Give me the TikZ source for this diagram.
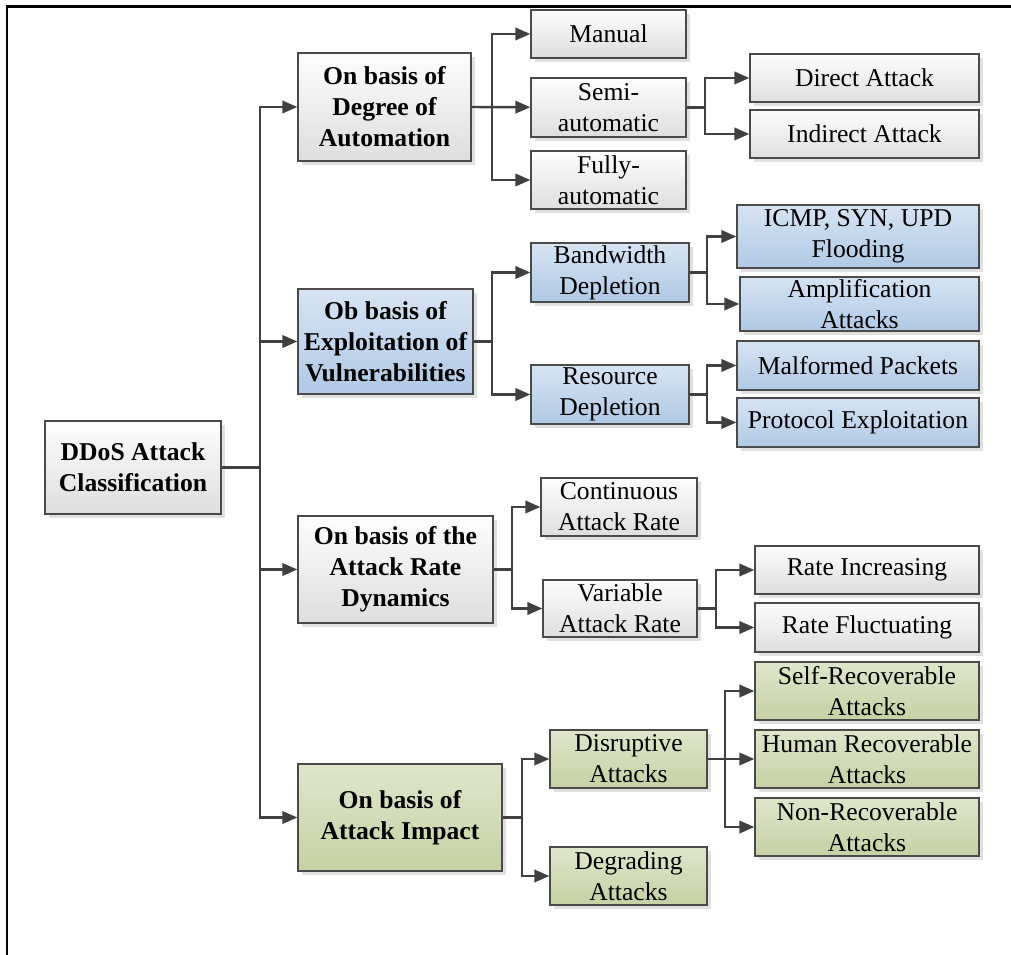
\documentclass[tikz,border=0pt]{standalone}
\usepackage{fontspec}
\setmainfont{Liberation Serif}
\usetikzlibrary{arrows.meta,shadows}
\definecolor{boxline}{HTML}{4A4A4A}
\definecolor{arrowgray}{HTML}{404040}
\definecolor{grayT}{HTML}{FDFDFD}
\definecolor{grayB}{HTML}{DEDEDE}
\definecolor{blueT}{HTML}{D6E4F3}
\definecolor{blueB}{HTML}{B0C9E5}
\definecolor{greenT}{HTML}{DFE6CC}
\definecolor{greenB}{HTML}{C6D1A4}
\begin{document}
\begin{tikzpicture}[x=0.02cm,y=-0.02cm,
	box/.style={draw=boxline,line width=0.7pt,align=center,inner sep=1pt,
		font=\fontsize{14.6}{17.6}\selectfont,
		drop shadow={shadow xshift=2.2pt,shadow yshift=-2.2pt,fill=black!12,opacity=1}},
	head/.style={font=\fontsize{14.6}{17.6}\selectfont\bfseries},
	graybox/.style={box,top color=grayT,bottom color=grayB},
	bluebox/.style={box,top color=blueT,bottom color=blueB},
	greenbox/.style={box,top color=greenT,bottom color=greenB},
	sz/.style 2 args={minimum width=#1*0.02cm,minimum height=#2*0.02cm},
	arr/.style={draw=arrowgray,line width=1.4pt,-{Triangle[length=8.5pt,width=7pt]}}]
	\useasboundingbox (0,0) rectangle (1011,955);
	\draw[line width=1.7pt] (7,955) -- (7,7) -- (1011,7);
	% forks
	\coordinate (trunk) at (260,0);
	\coordinate (f1) at (492,0);
	\coordinate (f1b) at (705,0);
	\coordinate (f2) at (492,0);
	\coordinate (f2b) at (707,0);
	\coordinate (f3) at (512,0);
	\coordinate (f3b) at (716,0);
	\coordinate (f4) at (522,0);
	\coordinate (f4b) at (725,0);
	% root and first level
	\node[graybox,head,sz={176}{93}] (root) at (133,467.5) {DDoS Attack\\Classification};
	\node[graybox,head,sz={173}{108}] (auto) at (384.5,107) {On basis of\\Degree of\\Automation};
	\node[bluebox,head,sz={175}{105}] (vuln) at (385.5,341.5) {Ob basis of\\Exploitation of\\Vulnerabilities};
	\node[graybox,head,sz={195}{107}] (rate) at (395.5,569.5) {On basis of the\\Attack Rate\\Dynamics};
	\node[greenbox,head,sz={204}{107}] (impact) at (400,817.5) {On basis of\\Attack Impact};
	% automation
	\node[graybox,sz={155}{48}] (manual) at (608.5,34) {Manual};
	\node[graybox,sz={155}{59}] (semi) at (608.5,107.5) {Semi-\\automatic};
	\node[graybox,sz={155}{58}] (fully) at (608.5,180) {Fully-\\automatic};
	\node[graybox,sz={229}{48}] (direct) at (864.5,78) {Direct Attack};
	\node[graybox,sz={229}{48}] (indirect) at (864.5,134) {Indirect Attack};
	% vulnerabilities
	\node[bluebox,sz={158}{59}] (band) at (610,272.5) {Bandwidth\\Depletion};
	\node[bluebox,sz={158}{59}] (resource) at (610,394.5) {Resource\\Depletion};
	\node[bluebox,sz={242}{63}] (flood) at (858,236.5) {ICMP, SYN, UPD\\Flooding};
	\node[bluebox,sz={239}{54}] (ampl) at (859.5,304) {Amplification\\Attacks};
	\node[bluebox,sz={242}{49}] (malformed) at (858,365.5) {Malformed Packets};
	\node[bluebox,sz={242}{49}] (protocol) at (858,422.5) {Protocol Exploitation};
	% rate dynamics
	\node[graybox,sz={156}{58}] (cont) at (619,507) {Continuous\\Attack Rate};
	\node[graybox,sz={154}{57}] (var) at (620,608.5) {Variable\\Attack Rate};
	\node[graybox,sz={224}{48}] (incr) at (867,570) {Rate Increasing};
	\node[graybox,sz={224}{49}] (fluct) at (867,627.5) {Rate Fluctuating};
	% impact
	\node[greenbox,sz={157}{58}] (disr) at (628.5,759) {Disruptive\\Attacks};
	\node[greenbox,sz={157}{58}] (degr) at (628.5,876) {Degrading\\Attacks};
	\node[greenbox,sz={224}{58}] (selfrec) at (867,691) {Self-Recoverable\\Attacks};
	\node[greenbox,sz={224}{58}] (humanrec) at (867,759) {Human Recoverable\\Attacks};
	\node[greenbox,sz={224}{58}] (nonrec) at (867,827) {Non-Recoverable\\Attacks};
	% connectors
	\draw[arr] (root.east) -- (root.east -| trunk) |- (auto);
	\draw[arr] (root.east) -- (root.east -| trunk) |- (vuln);
	\draw[arr] (root.east) -- (root.east -| trunk) |- (rate);
	\draw[arr] (root.east) -- (root.east -| trunk) |- (impact);
	\draw[arr] (auto.east) -- (auto.east -| f1) |- (manual);
	\draw[arr] (auto.east) -- (semi);
	\draw[arr] (auto.east) -- (auto.east -| f1) |- (fully);
	\draw[arr] (semi.east) -- (semi.east -| f1b) |- (direct);
	\draw[arr] (semi.east) -- (semi.east -| f1b) |- (indirect);
	\draw[arr] (vuln.east) -- (vuln.east -| f2) |- (band);
	\draw[arr] (vuln.east) -- (vuln.east -| f2) |- (resource);
	\draw[arr] (band.east) -- (band.east -| f2b) |- (flood);
	\draw[arr] (band.east) -- (band.east -| f2b) |- (ampl);
	\draw[arr] (resource.east) -- (resource.east -| f2b) |- (malformed);
	\draw[arr] (resource.east) -- (resource.east -| f2b) |- (protocol);
	\draw[arr] (rate.east) -- (rate.east -| f3) |- (cont);
	\draw[arr] (rate.east) -- (rate.east -| f3) |- (var);
	\draw[arr] (var.east) -- (var.east -| f3b) |- (incr);
	\draw[arr] (var.east) -- (var.east -| f3b) |- (fluct);
	\draw[arr] (impact.east) -- (impact.east -| f4) |- (disr);
	\draw[arr] (impact.east) -- (impact.east -| f4) |- (degr);
	\draw[arr] (disr.east) -- (disr.east -| f4b) |- (selfrec);
	\draw[arr] (disr.east) -- (humanrec);
	\draw[arr] (disr.east) -- (disr.east -| f4b) |- (nonrec);
\end{tikzpicture}
\end{document}
